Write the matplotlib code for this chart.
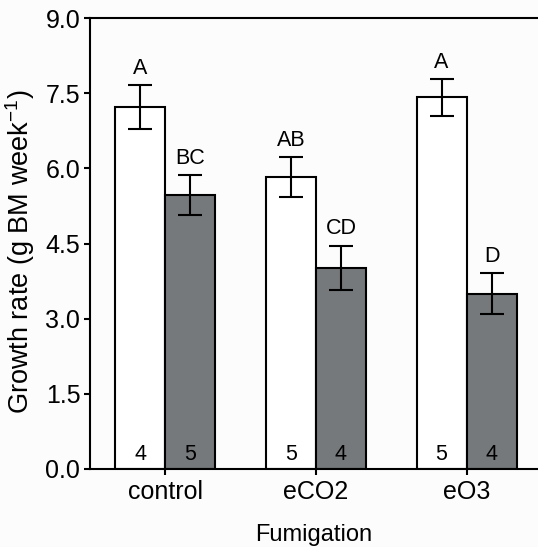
import matplotlib
matplotlib.use("Agg")
import matplotlib.pyplot as plt
import numpy as np

plt.rcParams['font.family'] = ['Liberation Sans', 'DejaVu Sans']
plt.rcParams['mathtext.fontset'] = 'custom'
plt.rcParams['mathtext.rm'] = 'Liberation Sans'
plt.rcParams['mathtext.default'] = 'regular'

categories = ["control", "eCO2", "eO3"]
white_vals = [7.22, 5.82, 7.42]
white_err = [0.44, 0.40, 0.37]
gray_vals = [5.47, 4.02, 3.50]
gray_err = [0.40, 0.44, 0.41]
white_letters = ["A", "AB", "A"]
gray_letters = ["BC", "CD", "D"]
white_n = ["4", "5", "5"]
gray_n = ["5", "4", "4"]
yticks = [0.0, 1.5, 3.0, 4.5, 6.0, 7.5, 9.0]

fig = plt.figure(figsize=(5.38, 5.47), dpi=100)
fig.patch.set_facecolor('#fcfcfc')
ax = fig.add_axes([90/538, 78/547, 1 - 90/538, 451/547])
ax.set_facecolor('#fcfcfc')

x = np.arange(len(categories))
w = 0.332
lw = 1.5
ekw = dict(elinewidth=1.5, capthick=1.5, capsize=8.4, ecolor='black')
ax.bar(x - w/2, white_vals, w, color='white', edgecolor='black', linewidth=lw,
       yerr=white_err, error_kw=ekw, zorder=2)
ax.bar(x + w/2, gray_vals, w, color='#75797b', edgecolor='black', linewidth=lw,
       yerr=gray_err, error_kw=ekw, zorder=2)

fs_ann = 15.5
for i in range(len(categories)):
    ax.text(x[i] - w/2, white_vals[i] + white_err[i] + 0.22, white_letters[i],
            ha='center', va='baseline', fontsize=fs_ann)
    ax.text(x[i] + w/2, gray_vals[i] + gray_err[i] + 0.22, gray_letters[i],
            ha='center', va='baseline', fontsize=fs_ann)
    ax.text(x[i] - w/2, 0.18, white_n[i], ha='center', va='baseline', fontsize=fs_ann)
    ax.text(x[i] + w/2, 0.18, gray_n[i], ha='center', va='baseline', fontsize=fs_ann)

ax.set_xlim(-0.5, 2.474)
ax.set_ylim(0, 9.0)
ax.set_yticks(yticks)
ax.set_yticklabels([f"{v:.1f}" for v in yticks])
ax.set_xticks(x)
ax.set_xticklabels(categories)
ax.tick_params(axis='both', labelsize=18, width=1.5, length=4, pad=3, direction='out')
ax.tick_params(axis='x', pad=4)
for s in ['left', 'bottom', 'top']:
    ax.spines[s].set_linewidth(1.5)
ax.spines['right'].set_visible(False)

ax.set_ylabel("Growth rate (g BM week$^{-1}$)", fontsize=19.5)
ax.yaxis.set_label_coords(-0.118, 0.482)
ax.set_xlabel("Fumigation", fontsize=17, labelpad=14)

fig.savefig("out.png", dpi=100, facecolor=fig.get_facecolor())
